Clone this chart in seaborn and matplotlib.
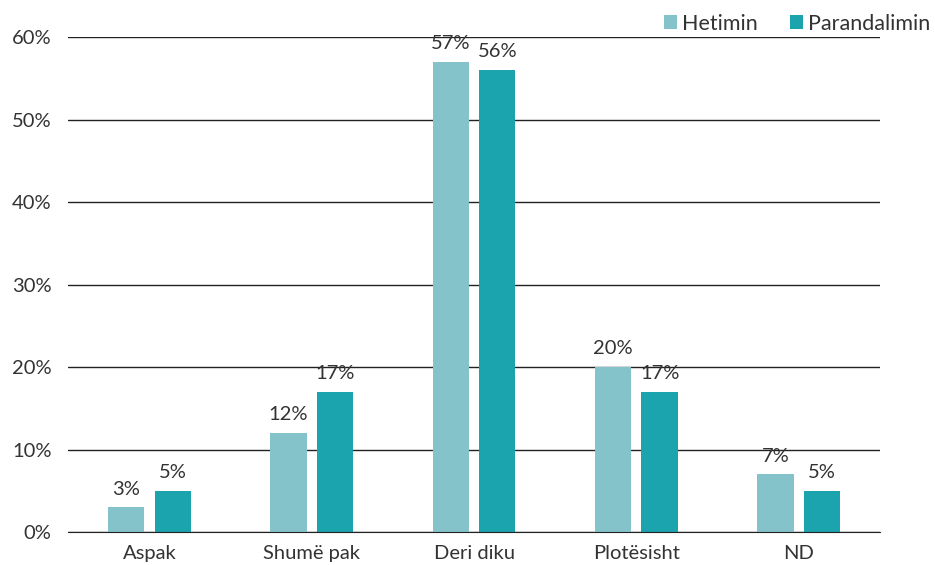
import pandas as pd
import matplotlib.pyplot as plt
import seaborn as sns

# values (percent)
categories = ["Aspak", "Shumë pak", "Deri diku", "Plotësisht", "ND"]
hetimin = [3, 12, 57, 20, 7]
parandalimin = [5, 17, 56, 17, 5]
series_names = ["Hetimin", "Parandalimin"]
y_ticks = [0, 10, 20, 30, 40, 50, 60]

df = pd.DataFrame({
    "cat": categories * 2,
    "val": hetimin + parandalimin,
    "series": [series_names[0]] * 5 + [series_names[1]] * 5,
})

sns.set_style("white")
plt.rcParams["font.family"] = ["Lato", "DejaVu Sans"]

fig = plt.figure(figsize=(9.35, 5.65), dpi=100)
ax = fig.add_axes([0.073, 0.0584, 0.868, 0.8761])

palette = {"Hetimin": "#84C3CA", "Parandalimin": "#1BA3AE"}
sns.barplot(data=df, x="cat", y="val", hue="series", palette=palette,
            width=0.572, gap=0.22, ax=ax, saturation=1, legend=True,
            linewidth=0)

for cont in ax.containers:
    ax.bar_label(cont, labels=[f"{v:.0f}%" for v in cont.datavalues],
                 padding=7, fontsize=14.5, color="#333333")

ax.set_ylim(0, 60)
ax.set_xlim(-0.5, 4.5)
ax.set_yticks(y_ticks)
ax.set_yticklabels([f"{t}%" for t in y_ticks])
ax.yaxis.grid(True, color="#222222", linewidth=1)
ax.set_axisbelow(True)
for s in ["top", "right", "left"]:
    ax.spines[s].set_visible(False)
ax.spines["bottom"].set_color("#222222")
ax.tick_params(axis="both", length=0, labelsize=14.5, colors="#333333")
ax.tick_params(axis="y", pad=12)
ax.tick_params(axis="x", pad=9)
ax.set_xlabel("")
ax.set_ylabel("")

handles, labels = ax.get_legend_handles_labels()
ax.legend(handles, labels, loc="upper right", bbox_to_anchor=(1.016, 1.01),
          bbox_transform=fig.transFigure, ncol=2, frameon=False,
          fontsize=15.5, handlelength=0.6, handleheight=0.6, handletextpad=0.25,
          columnspacing=1.5, labelcolor="#333333")

fig.savefig("out.png", dpi=100)
